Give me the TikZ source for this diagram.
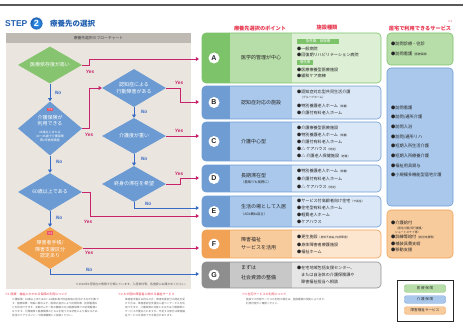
\documentclass[tikz,border=0pt]{standalone}
\usepackage{fontspec}
\setmainfont{Noto Sans CJK JP}
\newfontfamily\lat{Liberation Sans}
\usetikzlibrary{shapes.geometric,arrows.meta}
\definecolor{gD}{HTML}{7CC36A}
\definecolor{gM}{HTML}{B7DDA8}
\definecolor{gL}{HTML}{DDEFD5}
\definecolor{bD}{HTML}{6F9CD3}
\definecolor{bM}{HTML}{A9C8EC}
\definecolor{bL}{HTML}{DAE7F6}
\definecolor{oD}{HTML}{F2A254}
\definecolor{oM}{HTML}{F8CB9C}
\definecolor{oL}{HTML}{FDE6D0}
\definecolor{kD}{HTML}{8E8E8E}
\definecolor{kM}{HTML}{C8C8C8}
\definecolor{kL}{HTML}{E6E6E6}
\definecolor{mag}{HTML}{C8226A}
\definecolor{blu}{HTML}{3A6BC4}
\definecolor{panel}{HTML}{EAE5DF}
\definecolor{panelhd}{HTML}{BEB9B3}
\definecolor{redT}{HTML}{E8374F}
\definecolor{stepB}{HTML}{1F5FB0}
\definecolor{dG}{HTML}{86C46F}
\definecolor{dB}{HTML}{6B9BD2}
\definecolor{dO}{HTML}{F0A24F}
\newcommand\rowbg[5]{%
  \begin{scope}
    \clip[rounded corners=4pt] (202,#1) rectangle (381,#2);
    \fill[#3] (202,#1) rectangle (230,#2);
    \fill[#4] (230,#1) rectangle (292,#2);
    \fill[#5] (292,#1) rectangle (381,#2);
  \end{scope}
  \draw[#3, line width=0.6pt, rounded corners=4pt] (202,#1) rectangle (381,#2);}
\newcommand\sm[1]{{\fontsize{2.8}{3}\selectfont #1}}
\tikzset{
  dia/.style={diamond, draw=none, inner sep=0pt, minimum width=64pt, minimum height=#1},
  wt/.style={text=white, inner sep=0pt, align=center, font=\fontsize{5}{6.5}\selectfont},
  wts/.style={text=white, inner sep=0pt, align=center, font=\fontsize{3}{3.8}\selectfont},
  yes/.style={draw=mag, line width=0.9pt, -{Triangle[length=3.2pt,width=3.8pt]}},
  no/.style={draw=blu, line width=0.9pt, -{Triangle[length=3.2pt,width=3.8pt]}},
  yl/.style={text=mag, inner sep=0pt, font=\lat\bfseries\itshape\fontsize{4.8}{5}\selectfont},
  nl/.style={text=blu, inner sep=0pt, font=\lat\bfseries\itshape\fontsize{4.8}{5}\selectfont},
  it/.style={anchor=west, inner sep=0pt, text=black!85, font=\fontsize{4.1}{4.5}\selectfont},
  pt/.style={anchor=west, inner sep=0pt, text=black!85, font=\fontsize{5}{6}\selectfont},
  ps/.style={anchor=west, inner sep=0pt, text=black!85, font=\fontsize{3.3}{4}\selectfont},
  sv/.style={anchor=west, inner sep=0pt, text=black!85, font=\fontsize{4.2}{5}\selectfont},
  lt/.style={circle, fill=white, inner sep=0pt, minimum size=11pt, text=black!85, font=\lat\bfseries\fontsize{7}{7}\selectfont},
  tagbox/.style={fill=gD, text=white, inner sep=0pt, anchor=west, minimum height=5.5pt, font=\fontsize{3.5}{4}\selectfont},
  hd/.style={text=redT, inner sep=0pt, font=\bfseries\fontsize{5.2}{6}\selectfont},
  fnh/.style={anchor=west, text=redT, inner sep=0pt, font=\fontsize{3}{3.5}\selectfont},
  fnb/.style={anchor=north west, text=black!60, inner sep=0pt, align=left, font=\fontsize{2.6}{3.8}\selectfont},
  pill/.style={rounded corners=2pt, minimum width=41pt, minimum height=7.5pt, inner sep=0pt, text=black!80, font=\fontsize{3.6}{4}\selectfont},
}
\begin{document}
\begin{tikzpicture}[x=1pt,y=-1pt]
\useasboundingbox (0,0) rectangle (463,331);
\fill[white] (0,0) rectangle (463,331);
% top rule
\draw[line width=1.5pt, black!65] (0,5) -- (463,5);
% step header
\node[anchor=west, text=stepB, font=\lat\bfseries\fontsize{8.5}{9}\selectfont, inner sep=0pt] (step) at (5,23.5) {STEP};
\node[circle, minimum size=13pt, inner sep=0pt, draw=white, line width=0.6pt, inner color=blue!45!cyan!80!white, outer color=stepB, text=white, font=\lat\bfseries\fontsize{9}{9}\selectfont] (num) at (36.5,23.5) {2};
\node[anchor=west, text=stepB, font=\bfseries\fontsize{7.5}{8}\selectfont, inner sep=0pt] (ttl) at (50,23.5) {療養先の選択};
% column headers
\node[hd] (h1) at (260,28) {療養先選択のポイント};
\node[hd] (h2) at (327,28) {施設種類};
\node[hd] (h3) at (420,28) {居宅で利用できるサービス};
\node[text=redT, inner sep=0pt, font=\fontsize{2.6}{3}\selectfont] (h3n) at (450,22) {※3};
% flowchart panel
\fill[panel] (6,33) rectangle (191,289);
\fill[panelhd] (6,33) rectangle (191,43);
\node[text=black!75, inner sep=0pt, font=\fontsize{3.8}{4}\selectfont] (ptitle) at (98.5,38.2) {療養先選択のフローチャート};
\node[anchor=east, text=black!65, inner sep=0pt, font=\fontsize{2.9}{3}\selectfont] (pnote) at (188,284.5) {※2016年3月現在の情報で分類しています。入居条件等、各施設にお確かめください。};
% diamonds
\node[dia=37pt, fill=dG] (d1) at (50,65) {};
\node[wt] (d1t) at (d1) {医療依存度が高い};
\node[dia=54pt, fill=dB] (d2) at (50,128.5) {};
\node[fill=redT!85, text=white, inner sep=0.5pt, font=\fontsize{2.8}{3}\selectfont] (d2n) at (50,109.5) {※1};
\node[wt] (d2t) at (50,120.5) {介護保険が\\利用できる};
\node[wts] (d2s) at (50,136.5) {65歳以上または\\40〜65歳で介護保険\\第2号被保険者};
\node[dia=38pt, fill=dB] (d3) at (134,88) {};
\node[wt] (d3t) at (d3) {認知症による\\行動障害がある};
\node[dia=36pt, fill=dB] (d4) at (134,136) {};
\node[wt] (d4t) at (d4) {介護度が重い};
\node[dia=36pt, fill=dB] (d5) at (134,184) {};
\node[wt] (d5t) at (d5) {終身の滞在を希望};
\node[dia=38pt, fill=dB] (d6) at (50,192) {};
\node[wt] (d6t) at (d6) {60歳以上である};
\node[dia=42pt, fill=dO, minimum width=66pt] (d7) at (50,248) {};
\node[fill=redT!85, text=white, inner sep=0.5pt, font=\fontsize{2.8}{3}\selectfont] (d7n) at (50,233) {※2};
\node[wt] (d7t) at (50,249.5) {障害者手帳/\\障害支援区分\\認定あり};
% rows
\rowbg{33}{83}{gD}{gM}{gL}
\rowbg{86}{119}{bD}{bM}{bL}
\rowbg{122}{161}{bD}{bM}{bL}
\rowbg{165}{192}{bD}{bM}{bL}
\rowbg{196}{227}{bD}{bM}{bL}
\rowbg{230}{258}{oD}{oM}{oL}
\rowbg{262}{288}{kD}{kM}{kL}
\node[lt] (lA) at (214,58) {A};
\node[lt] (lB) at (214,102.5) {B};
\node[lt] (lC) at (214,141.5) {C};
\node[lt] (lD) at (214,178.5) {D};
\node[lt] (lE) at (214,211.5) {E};
\node[lt] (lF) at (214,244) {F};
\node[lt] (lG) at (214,275) {G};
% arrow targets
\coordinate (tA) at (199,59);
\coordinate (tB) at (199,102);
\coordinate (tC) at (199,136);
\coordinate (tD) at (199,178);
\coordinate (tE1) at (199,208);
\coordinate (tE2) at (199,216);
\coordinate (tF) at (199,248);
\coordinate (tG) at (199,274);
% points
\node[pt] (pA) at (241,58) {医学的管理が中心};
\node[pt] (pB) at (241,102.5) {認知症対応の施設};
\node[pt] (pC) at (241,141.5) {介護中心型};
\node[pt] (pD) at (241,176) {長期滞在型};
\node[ps] (pD2) at (241,182.5) {（看取りも視野に）};
\node[pt] (pE) at (241,207) {生活の場として入居};
\node[ps] (pE2) at (241,214) {（ADL概ね自立）};
\node[pt] (pF) at (241,240) {障害福祉};
\node[pt] (pF2) at (241,248) {サービスを活用};
\node[pt] (pG) at (241,267.5) {まずは};
\node[pt] (pG2) at (241,277.5) {社会資源の整備};
% facilities A
\node[tagbox, minimum width=42pt] (tg1) at (297,41.5) {急性期、回復期};
\node[it] (a1) at (297,49) {●一般病院};
\node[it] (a2) at (297,54.5) {●回復期リハビリテーション病院};
\node[tagbox, minimum width=16pt] (tg2) at (297,62.5) {慢性期};
\node[it] (a3) at (297,70) {●医療療養型医療施設};
\node[it] (a4) at (297,75.5) {●緩和ケア病棟};
% B
\node[it] (b1) at (297,92) {●認知症対応型共同生活介護};
\node[it] (b2) at (300,97.5) {\sm{（グループホーム）}};
\node[it] (b3) at (297,105.5) {●特別養護老人ホーム\sm{（特養）}};
\node[it] (b4) at (297,112.5) {●介護付有料老人ホーム};
% C
\node[it] (c1) at (297,128) {●介護療養型医療施設};
\node[it] (c2) at (297,135) {●特別養護老人ホーム\sm{（特養）}};
\node[it] (c3) at (297,142) {●介護付有料老人ホーム};
\node[it] (c4) at (297,149) {●△ ケアハウス\sm{（特定）}};
\node[it] (c5) at (297,156) {●△ 介護老人保健施設\sm{（老健）}};
% D
\node[it] (e1) at (297,170.5) {●特別養護老人ホーム\sm{（特養）}};
\node[it] (e2) at (297,178.5) {●介護付有料老人ホーム};
\node[it] (e3) at (297,186.5) {●△ ケアハウス\sm{（特定）}};
% E
\node[it] (f1) at (297,200.5) {●サービス付高齢者向け住宅\sm{（サ高住）}};
\node[it] (f2) at (297,207.5) {●住宅型有料老人ホーム};
\node[it] (f3) at (297,214.5) {●軽費老人ホーム};
\node[it] (f4) at (297,221.5) {●ケアハウス};
% F
\node[it] (g1) at (297,237.5) {●更生施設\sm{（身体不自由/内部障害）}};
\node[it] (g2) at (297,244.5) {●身体障害者療護施設};
\node[it] (g3) at (297,251.5) {●福祉ホーム};
% G
\node[it] (k1) at (297,267.5) {●在宅地域包括支援センター、};
\node[it] (k2) at (301,274.5) {または自治体の介護保険課や};
\node[it] (k3) at (301,281.5) {障害福祉担当へ相談};
% services
\draw[fill=gM, draw=gD, line width=0.6pt, rounded corners=4pt] (387,33) rectangle (453,65);
\node[sv] (s1) at (391,44) {●訪問診療・往診};
\node[sv] (s2) at (391,54) {●訪問看護\sm{（医療保険）}};
\draw[fill=bM, draw=bD, line width=0.6pt, rounded corners=4pt] (387,68) rectangle (453,206);
\node[sv] (s3) at (391,108) {●訪問看護};
\node[sv] (s4) at (391,117.6) {●訪問/通所介護};
\node[sv] (s5) at (391,127.2) {●訪問入浴};
\node[sv] (s6) at (391,136.8) {●訪問/通所リハ};
\node[sv] (s7) at (391,146.4) {●短期入所生活介護};
\node[sv] (s8) at (391,156) {●短期入所療養介護};
\node[sv] (s9) at (391,165.6) {●福祉用具貸与};
\node[sv] (s10) at (391,175.2) {●小規模多機能型居宅介護};
\draw[fill=oM, draw=oD, line width=0.6pt, rounded corners=4pt] (387,210) rectangle (453,258);
\node[sv] (s11) at (391,222.5) {●介護給付};
\node[ps, font=\fontsize{2.8}{3.4}\selectfont, align=left] (s12) at (395,230.5) {（居宅介護/同行援護/\\ショートステイ等）};
\node[sv] (s13) at (391,237) {●訓練等給付\sm{（就労支援等）}};
\node[sv] (s14) at (391,243.5) {●補装具費支給};
\node[sv] (s15) at (391,250) {●移動支援};
% legend
\draw[black!85, line width=0.8pt, fill=white] (397,280) rectangle (453,321);
\node[pill, fill=gM, draw=gD] (lg1) at (425,288.5) {医\,療\,保\,険};
\node[pill, fill=bM, draw=bD] (lg2) at (425,299.5) {介\,護\,保\,険};
\node[pill, fill=oM, draw=oD] (lg3) at (425,310.5) {障害福祉サービス};
% connectors
\draw[no] (d1.south) -- (d2.north);
\draw[no] (d2.south) -- (d6.north);
\draw[no] (d6.south) -- (d7.north);
\draw[no] (d3.south) -- (d4.north);
\draw[no] (d4.south) -- (d5.north);
\draw[yes] (d1.east) -- ++(7,0) |- (tA);
\draw[yes] (d2.east) -- ++(7,0) |- (d3.west);
\draw[yes] (d3.east) -- ++(14,0) |- (tB);
\draw[yes] (d4.east) -- (tC);
\draw[yes] (d5.east) -- ++(14,0) |- (tD);
\draw[no] (d5.south) |- (tE1);
\draw[yes] (d6.east) -- ++(8,0) |- (tE2);
\draw[yes] (d7.east) -- (tF);
\draw[no] (d7.south) |- (tG);
% yes / no labels
\node[yl] (y1) at (90,72) {Yes};
\node[nl] (n1) at (58,92.5) {No};
\node[yl] (y2) at (89,135) {Yes};
\node[nl] (n2) at (59,162) {No};
\node[yl] (y3) at (179,83) {Yes};
\node[nl] (n3) at (144,111.5) {No};
\node[yl] (y4) at (179,131) {Yes};
\node[nl] (n4) at (144,158.5) {No};
\node[yl] (y5) at (179,173.5) {Yes};
\node[nl] (n5) at (148,204) {No};
\node[yl] (y6) at (88,222) {Yes};
\node[nl] (n6) at (59,217.5) {No};
\node[yl] (y7) at (89,252.5) {Yes};
\node[nl] (n7) at (89,269.5) {No};
% footnotes
\node[fnh] (fn1) at (5,294) {※1 医療・福祉にかかわる保険の利用について};
\node[fnb] (fb1) at (12,298.5) {介護保険：65歳以上または40〜65歳未満で特定疾病に該当する方が対象で\\す。医療保険：年齢に関わらず、医師の指示により訪問診療・訪問看護な\\どを利用できます。末期がんや一部の難病の方は医療保険での訪問看護と\\なります。介護保険と医療保険のどちらを使うかは状態により異なるため、\\担当のケアマネジャーや医療機関にご相談ください。};
\node[fnh] (fn2) at (118,294) {※2 わが国の障害者に関する福祉サービス};
\node[fnb] (fb2) at (125,298.5) {障害者手帳をお持ちの方、障害支援区分の認定を受\\けた方は、障害者総合支援法に基づくサービスを利\\用できます。介護保険の対象となる方は介護保険の\\サービスが優先されますが、不足する部分は障害福\\祉サービスを併用できる場合があります。};
\node[fnh] (fn3) at (242,294.5) {※3 在宅サービスの利用について};
\node[fnb] (fb3) at (246,298.5) {施設での外部サービスの利用の場合は、施設種類の規定によります。\\利用可能かご確認ください。};
\end{tikzpicture}
\end{document}
